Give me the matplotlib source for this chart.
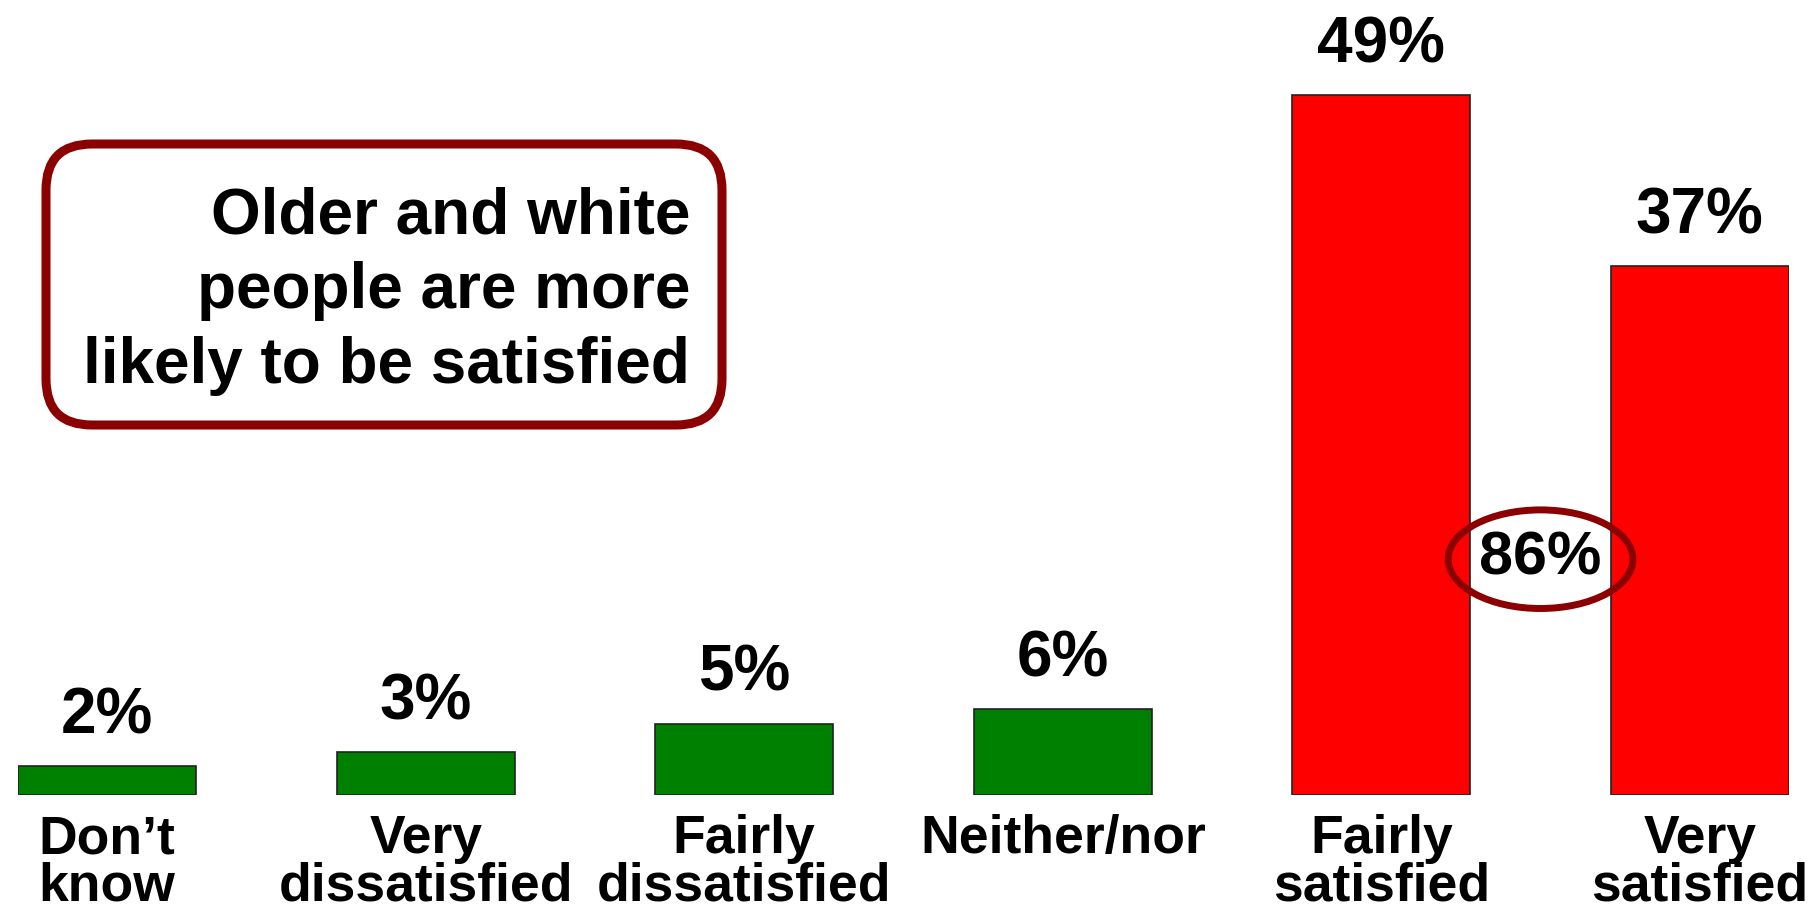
import matplotlib
matplotlib.use("Agg")
import matplotlib.pyplot as plt
from matplotlib.patches import Ellipse, FancyBboxPatch
from matplotlib.transforms import IdentityTransform

# data
categories = ["Don\u2019t\nknow", "Very\ndissatisfied", "Fairly\ndissatisfied",
              "Neither/nor", "Fairly\nsatisfied", "Very\nsatisfied"]
values = [2, 3, 5, 6, 49, 37]
colors = ["#008000", "#008000", "#008000", "#008000", "#FF0000", "#FF0000"]
net_label = "86%"
callout = "Older and white\npeople are more\nlikely to be satisfied"

plt.rcParams["font.family"] = ["Liberation Sans", "DejaVu Sans"]
plt.rcParams["font.weight"] = "bold"

W, H = 1812, 908
fig = plt.figure(figsize=(W / 100, H / 100), dpi=100)
ax = fig.add_axes([18 / W, 113 / H, 1771 / W, 786 / H])
ax.set_xlim(-0.28, 5.28)
ax.set_ylim(0, 55)
ax.axis("off")

x = list(range(len(values)))
ax.bar(x, values, width=0.558, color=colors, edgecolor="#222222", linewidth=1.2)

for xi, v in zip(x, values):
    ax.annotate(f"{v}%", (xi, v), xytext=(0, 23.5), textcoords="offset points",
                ha="center", va="baseline", fontsize=46, fontweight="bold")

# category labels, one line at a time
for xi, cat in zip(x, categories):
    for i, line in enumerate(cat.split("\n")):
        ax.annotate(line, (xi, 0), xytext=(0, -42 - i * 34), textcoords="offset points",
                    ha="center", va="baseline", fontsize=38.5, fontweight="bold")

# net satisfied ellipse between the two red bars
ax.add_patch(Ellipse((4.5, 16.5), 0.58, 6.9, fill=False, edgecolor="#8B0000", lw=5))
ax.text(4.5, 16.5, net_label, ha="center", va="center", fontsize=44, fontweight="bold")

# callout box
box = FancyBboxPatch((46, H - 425), 676, 281, boxstyle="round,pad=0,rounding_size=46",
                     transform=IdentityTransform(), facecolor="white",
                     edgecolor="#8B0000", lw=6.5)
fig.add_artist(box)
for i, line in enumerate(callout.split("\n")):
    fig.text(690 / W, 1 - (233 + i * 75) / H, line, ha="right", va="baseline",
             fontsize=46, fontweight="bold")

fig.savefig("out.png", dpi=100, facecolor="white")
